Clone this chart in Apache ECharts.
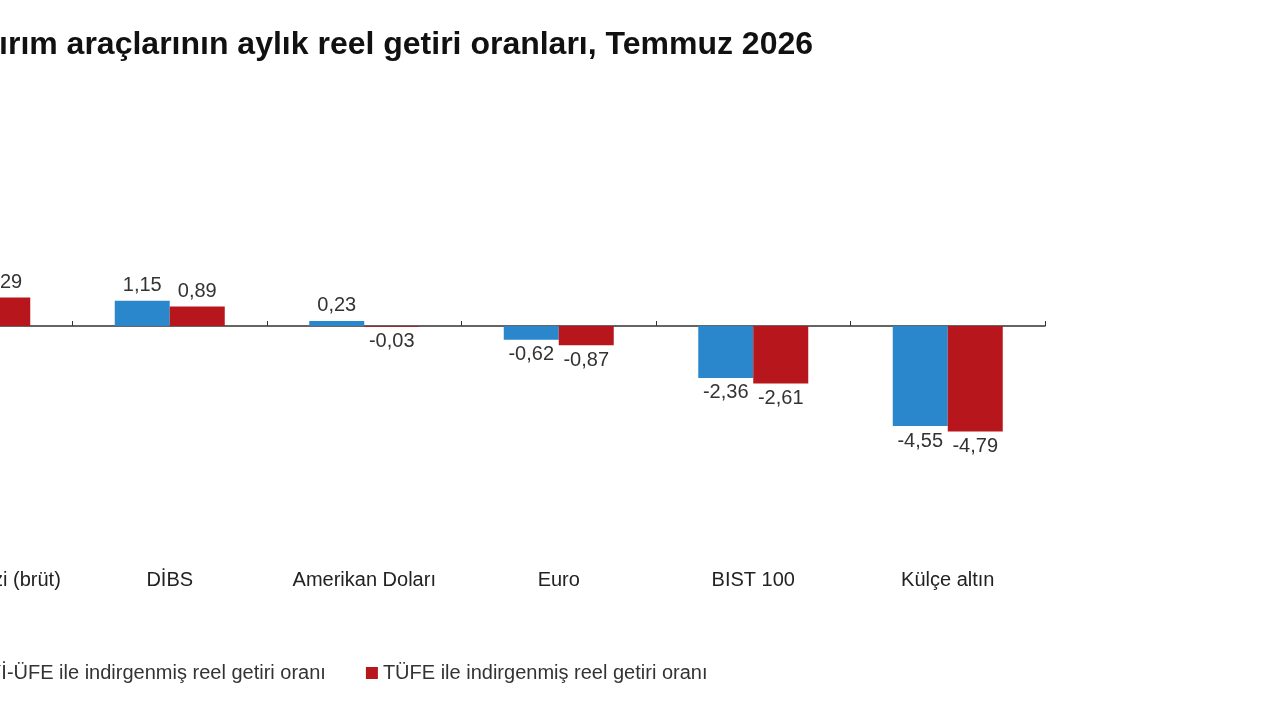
<!DOCTYPE html>
<html lang="tr">
<head>
<meta charset="UTF-8">
<title>reel getiri</title>
<script src="https://cdn.jsdelivr.net/npm/echarts@6/dist/echarts.min.js"></script>
</head>
<body style="margin:0;background:#fff;overflow:hidden">
<div id="container" style="width:1402px;height:720px;margin-left:-122px;"></div>
<script>
var categories = ['Mevduat faizi (brüt)', 'DİBS', 'Amerikan Doları', 'Euro', 'BIST 100', 'Külçe altın'];
var yiUfe = [1.55, 1.15, 0.23, -0.62, -2.36, -4.55];
var tufe = [1.29, 0.89, -0.03, -0.87, -2.61, -4.79];
var seriesNames = ['Yİ-ÜFE ile indirgenmiş reel getiri oranı', 'TÜFE ile indirgenmiş reel getiri oranı'];

var chart = echarts.init(document.getElementById('container'));

function makeSeries(name, data, color) {
	return {
		name: name, type: 'bar', barWidth: 55, barGap: '0%',
		data: data.map(function (v) {
			return { value: v, label: { position: v < 0 ? 'bottom' : 'top' } };
		}),
		itemStyle: { color: color },
		label: {
			show: true, fontSize: 20, color: '#333', fontFamily: 'Liberation Sans',
			formatter: function (p) { return p.value.toFixed(2).replace('.', ','); }
		}
	};
}

chart.setOption({
	animation: false,
	title: {
		text: 'Yatırım araçlarının aylık reel getiri oranları, Temmuz 2026',
		left: 68, top: 24,
		textStyle: { fontSize: 32, fontWeight: 'bold', color: '#111', fontFamily: 'Liberation Sans' }
	},
	legend: {
		data: seriesNames, left: 88, top: 658, itemWidth: 12, itemHeight: 12, itemGap: 40,
		icon: 'rect',
		textStyle: { fontSize: 20, color: '#333', fontFamily: 'Liberation Sans' }
	},
	grid: { left: 0, width: 1167, top: 238, height: 330 },
	xAxis: [{
		type: 'category', data: categories, position: 'bottom',
		axisLine: { show: false, onZero: false }, axisTick: { show: false },
		axisLabel: { fontSize: 20, color: '#222', margin: 2, interval: 0, fontFamily: 'Liberation Sans' }
	}, {
		type: 'category', data: categories,
		axisLine: { onZero: true, lineStyle: { color: '#333', width: 1.5 } },
		axisTick: { show: true, length: 5, lineStyle: { color: '#333' } },
		axisLabel: { show: false }
	}],
	yAxis: { type: 'value', min: -11, max: 4, interval: 1, show: false, splitLine: { show: false } },
	series: [makeSeries(seriesNames[0], yiUfe, '#2b87cc'), makeSeries(seriesNames[1], tufe, '#b7161c')]
});
</script>
</body>
</html>
